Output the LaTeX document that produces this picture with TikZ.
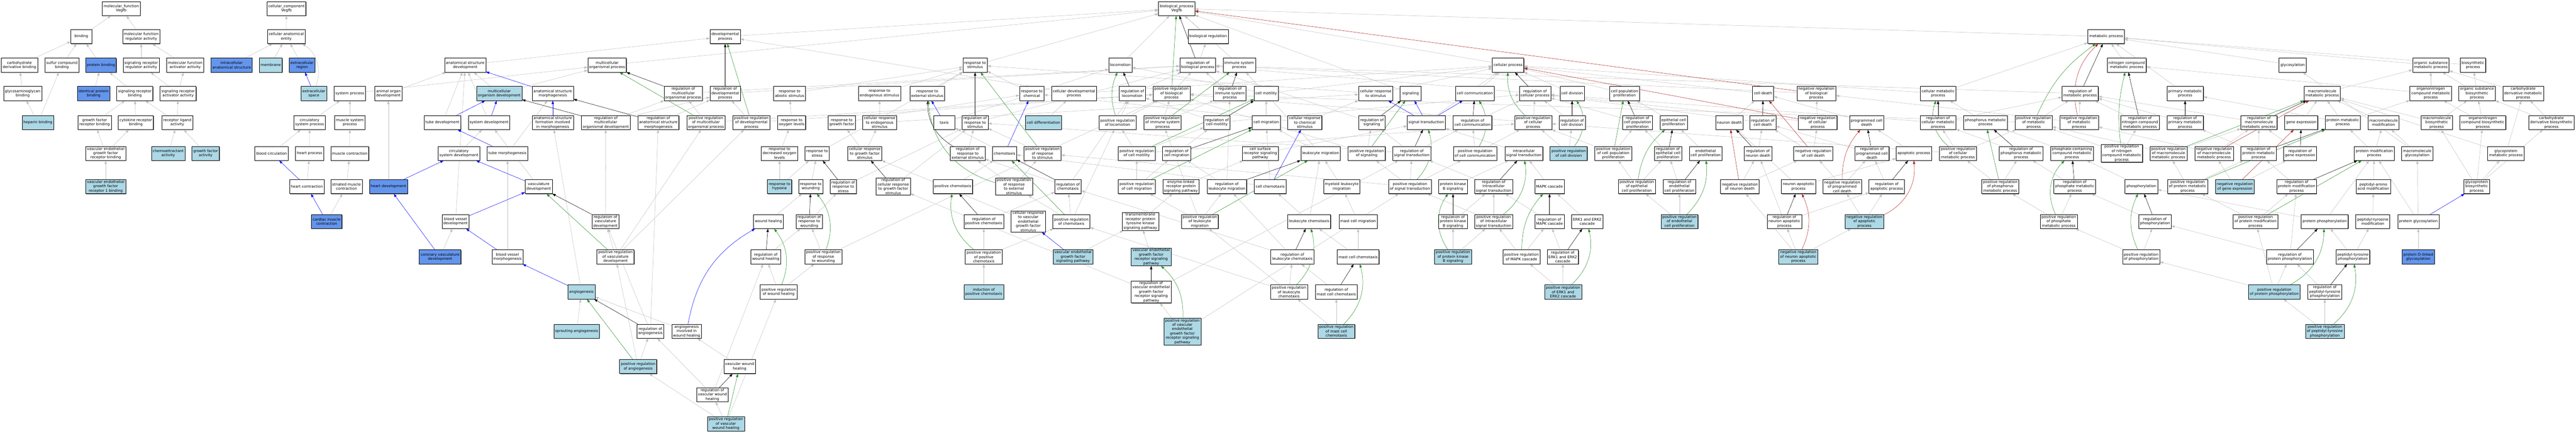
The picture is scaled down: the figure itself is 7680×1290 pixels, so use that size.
\documentclass[tikz,border=0pt]{standalone}
\usepackage{fontspec}
\setmainfont{DejaVu Sans}
\usetikzlibrary{arrows.meta,shadows,backgrounds}
\definecolor{lbcol}{HTML}{ADD8E6}
\definecolor{cbcol}{HTML}{6495ED}
\definecolor{grcol}{HTML}{C0C0C0}
\definecolor{gncol}{HTML}{228B22}
\definecolor{rdcol}{HTML}{B22222}
\definecolor{blcol}{HTML}{0000FF}
\newcommand\eg[3]{\foreach \q in {#3}{\draw[#1] (#2) -- (\q);}}
\tikzset{
 gbox/.style={draw=black, line width=0.9pt, fill=white, rectangle, align=center,
   inner xsep=4pt, inner ysep=1.5pt, minimum width=63pt, minimum height=42pt,
   font=\fontsize{11}{13}\selectfont,
   drop shadow={shadow xshift=1.4pt,shadow yshift=-1.4pt,fill=black!55,opacity=1}},
 lbbox/.style={gbox, fill=lbcol},
 cbbox/.style={gbox, fill=cbcol},
 ebase/.style={line width=0.8pt, -{Triangle[length=10pt,width=7pt]}},
 eisa/.style={ebase, draw=grcol},
 epart/.style={ebase, draw=blcol},
 ereg/.style={ebase, draw=black},
 epos/.style={ebase, draw=gncol},
 eneg/.style={ebase, draw=rdcol}
}
\begin{document}
\begin{tikzpicture}[x=1pt,y=-1pt]
\useasboundingbox (0,0) rectangle (7680,1290);
% ---------------- molecular function
\node[gbox] (mf) at (361.5,25.5) {molecular\_function\\Vegfb};
\node[gbox] (bind) at (242.5,109) {binding};
\node[gbox] (mfra) at (421,109) {molecular function\\regulator activity};
\node[gbox] (cdb) at (58,194) {carbohydrate\\derivative binding};
\node[gbox] (scb) at (184.5,194) {sulfur compound\\binding};
\node[cbbox] (pb) at (301,194) {protein binding};
\node[gbox] (srra) at (421,194) {signaling receptor\\regulator activity};
\node[gbox] (mfaa) at (552,194) {molecular function\\activator activity};
\node[gbox] (gagb) at (67.5,278.5) {glycosaminoglycan\\binding};
\node[cbbox] (ipb) at (279,278.5) {identical protein\\binding};
\node[gbox] (srb) at (402,278.5) {signaling receptor\\binding};
\node[gbox] (sraa) at (531,278.5) {signaling receptor\\activator activity};
\node[lbbox] (hep) at (113,365) {heparin binding};
\node[gbox] (gfrb) at (282,365) {growth factor\\receptor binding};
\node[gbox] (crb) at (405,365) {cytokine receptor\\binding};
\node[gbox] (rla) at (528.5,365) {receptor ligand\\activity};
\node[gbox] (vegfrb) at (315,457) {vascular endothelial\\growth factor\\receptor binding};
\node[lbbox] (chem) at (501.5,457) {chemoattractant\\activity};
\node[lbbox] (gfa) at (613,457) {growth factor\\activity};
\node[lbbox] (vegfr1b) at (315,556) {vascular endothelial\\growth factor\\receptor 1 binding};
% ---------------- cellular component
\node[gbox] (cc) at (854,25.5) {cellular\_component\\Vegfb};
\node[gbox] (cae) at (853.5,109) {cellular anatomical\\entity};
\node[cbbox] (ias) at (690.6,194) {intracellular\\anatomical structure};
\node[lbbox] (memb) at (807,194) {membrane};
\node[cbbox] (exr) at (900.6,194) {extracellular\\region};
\node[lbbox] (exs) at (935.7,278.5) {extracellular\\space};
% ---------------- development / system
\node[gbox] (sysp) at (1043,278.5) {system process};
\node[gbox] (aod) at (1158,278.5) {animal organ\\development};
\node[gbox] (csp) at (923,365) {circulatory\\system process};
\node[gbox] (msp) at (1043,365) {muscle system\\process};
\node[gbox] (bcirc) at (809.5,457) {blood circulation};
\node[gbox] (hp) at (922.8,457) {heart process};
\node[gbox] (mc) at (1042.6,457) {muscle contraction};
\node[gbox] (hc) at (914.8,556) {heart contraction};
\node[gbox] (smc) at (1033,556) {striated muscle\\contraction};
\node[cbbox] (hd) at (1158,556) {heart development};
\node[cbbox] (cmc) at (974,660) {cardiac muscle\\contraction};
\node[cbbox] (cvd) at (1312,765.5) {coronary vasculature\\development};
\node[gbox] (asd) at (1387,194) {anatomical structure\\development};
\node[gbox] (mop) at (1810,194) {multicellular\\organismal process};
\node[lbbox] (mod) at (1488.5,278.5) {multicellular\\organism development};
\node[gbox] (asm) at (1648,278.5) {anatomical structure\\morphogenesis};
\node[gbox] (td) at (1319,365) {tube development};
\node[gbox] (sd) at (1458,365) {system development};
\node[gbox] (asf) at (1648,365) {anatomical structure\\formation involved\\in morphogenesis};
\node[gbox] (rmod) at (1806,365) {regulation of\\multicellular\\organismal development};
\node[gbox] (rasm) at (1962.7,365) {regulation of\\anatomical structure\\morphogenesis};
\node[gbox] (csd) at (1368,457) {circulatory\\system development};
\node[gbox] (tm) at (1513,457) {tube morphogenesis};
\node[gbox] (vd) at (1606,556) {vasculature\\development};
\node[gbox] (bvd) at (1358,660) {blood vessel\\development};
\node[gbox] (rvd) at (1805,660) {regulation of\\vasculature\\development};
\node[gbox] (bvm) at (1513,765.5) {blood vessel\\morphogenesis};
\node[gbox] (prvd) at (1835,765.5) {positive regulation\\of vasculature\\development};
\node[lbbox] (ang) at (1733.5,870) {angiogenesis};
\node[lbbox] (sang) at (1719,987) {sprouting angiogenesis};
\node[gbox] (rang) at (1939,987) {regulation of\\angiogenesis};
\node[lbbox] (prang) at (1902.6,1092) {positive regulation\\of angiogenesis};
\node[gbox] (dp) at (2162,109) {developmental\\process};
\node[gbox] (rmop) at (2037,278.5) {regulation of\\multicellular\\organismal process};
\node[gbox] (rdp) at (2162,278.5) {regulation of\\developmental\\process};
\node[gbox] (ras) at (2354,278.5) {response to\\abiotic stimulus};
\node[gbox] (prmop) at (2104.6,365) {positive regulation\\of multicellular\\organismal process};
\node[gbox] (prdp) at (2240,365) {positive regulation\\of developmental\\process};
\node[gbox] (rol) at (2360,365) {response to\\oxygen levels};
\node[gbox] (rgf) at (2509.6,365) {response to\\growth factor};
\node[gbox] (rdol) at (2324,457) {response to\\decreased oxygen\\levels};
\node[gbox] (rstress) at (2436,457) {response to\\stress};
\node[gbox] (crgf) at (2578,457) {cellular response\\to growth factor\\stimulus};
\node[lbbox] (rhyp) at (2324,556) {response to\\hypoxia};
\node[gbox] (rwound) at (2417,556) {response to\\wounding};
\node[gbox] (rrs) at (2514,556) {regulation of\\response to\\stress};
\node[gbox] (wh) at (2291,660) {wound healing};
\node[gbox] (rrw) at (2412.6,660) {regulation of\\response to\\wounding};
\node[gbox] (rwh) at (2283,765.5) {regulation of\\wound healing};
\node[gbox] (prrw) at (2454.7,765.5) {positive regulation\\of response\\to wounding};
\node[gbox] (prwh) at (2321.5,870) {positive regulation\\of wound healing};
\node[gbox] (aiwh) at (2047,987) {angiogenesis\\involved in\\wound healing};
\node[gbox] (vwh) at (2205,1092) {vascular wound\\healing};
\node[gbox] (rvwh) at (2124,1176) {regulation of\\vascular wound\\healing};
\node[lbbox] (prvwh) at (2164,1263) {positive regulation\\of vascular\\wound healing};
% ---------------- response to stimulus
\node[gbox] (rstim) at (2907,194) {response to\\stimulus};
\node[gbox] (res) at (2622,278.5) {response to\\endogenous stimulus};
\node[gbox] (rext) at (2764.6,278.5) {response to\\external stimulus};
\node[gbox] (rchem) at (3076,278.5) {response to\\chemical};
\node[gbox] (cdp) at (3202,278.5) {cellular developmental\\process};
\node[gbox] (cres) at (2622.5,365) {cellular response\\to endogenous\\stimulus};
\node[gbox] (taxis) at (2815,365) {taxis};
\node[gbox] (rrstim) at (2907,365) {regulation of\\response to\\stimulus};
\node[lbbox] (cdiff) at (3111,365) {cell differentiation};
\node[gbox] (rrext) at (2885,457) {regulation of\\response to\\external stimulus};
\node[gbox] (chemo) at (2995,457) {chemotaxis};
\node[gbox] (prrstim) at (3108,457) {positive regulation\\of response\\to stimulus};
\node[gbox] (rcrgf) at (2663,556) {regulation of\\cellular response\\to growth factor\\stimulus};
\node[gbox] (pchemo) at (2840.5,556) {positive chemotaxis};
\node[gbox] (prrext) at (3023,556) {positive regulation\\of response\\to external\\stimulus};
\node[gbox] (rchemo) at (3184,556) {regulation of\\chemotaxis};
\node[gbox] (rpchemo) at (2933,660) {regulation of\\positive chemotaxis};
\node[gbox] (crvegf) at (3065.6,660) {cellular response\\to vascular\\endothelial\\growth factor\\stimulus};
\node[gbox] (prchemo) at (3194,660) {positive regulation\\of chemotaxis};
\node[gbox] (prpchemo) at (2933,765.5) {positive regulation\\of positive\\chemotaxis};
\node[lbbox] (vegfsp) at (3199,765.5) {vascular endothelial\\growth factor\\signaling pathway};
\node[lbbox] (ipc) at (2933,870) {induction of\\positive chemotaxis};
% ---------------- biological process core
\node[gbox] (bp) at (3508,25.5) {biological\_process\\Vegfb};
\node[gbox] (breg) at (3601.7,109) {biological regulation};
\node[gbox] (loco) at (3340,194) {locomotion};
\node[gbox] (rbp) at (3571,194) {regulation of\\biological process};
\node[gbox] (isp) at (3694.7,194) {immune system\\process};
\node[gbox] (rloco) at (3375.8,278.5) {regulation of\\locomotion};
\node[gbox] (prbp) at (3492.6,278.5) {positive regulation\\of biological\\process};
\node[gbox] (risp) at (3666.5,278.5) {regulation of\\immune system\\process};
\node[gbox] (cmot) at (3775,278.5) {cell motility};
\node[gbox] (prloco) at (3332,365) {positive regulation\\of locomotion};
\node[gbox] (prisp) at (3466,365) {positive regulation\\of immune system\\process};
\node[gbox] (rcmot) at (3628,365) {regulation of\\cell motility};
\node[gbox] (cmig) at (3775,365) {cell migration};
\node[gbox] (crcs) at (3890,365) {cellular response\\to chemical\\stimulus};
\node[gbox] (prcmot) at (3389,457) {positive regulation\\of cell motility};
\node[gbox] (rcmig) at (3508,457) {regulation of\\cell migration};
\node[gbox] (csrsp) at (3757.5,457) {cell surface\\receptor signaling\\pathway};
\node[gbox] (prcmig) at (3389,556) {positive regulation\\of cell migration};
\node[gbox] (elrp) at (3520.6,556) {enzyme-linked\\receptor protein\\signaling pathway};
\node[gbox] (rlm) at (3657.6,556) {regulation of\\leukocyte migration};
\node[gbox] (cchemo) at (3786.7,556) {cell chemotaxis};
\node[gbox] (trptk) at (3400,660) {transmembrane\\receptor protein\\tyrosine kinase\\signaling pathway};
\node[gbox] (prlm) at (3577,660) {positive regulation\\of leukocyte\\migration};
\node[gbox] (lchemo) at (3903,660) {leukocyte chemotaxis};
\node[lbbox] (vegfrsp) at (3432,765.5) {vascular endothelial\\growth factor\\receptor signaling\\pathway};
\node[gbox] (rlc) at (3853,765.5) {regulation of\\leukocyte chemotaxis};
\node[gbox] (rvegfrsp) at (3432,870) {regulation of\\vascular endothelial\\growth factor\\receptor signaling\\pathway};
\node[gbox] (prlc) at (3843,870) {positive regulation\\of leukocyte\\chemotaxis};
\node[lbbox] (prvegfrsp) at (3525,988) {positive regulation\\of vascular\\endothelial\\growth factor\\receptor signaling\\pathway};
% ---------------- signaling
\node[gbox] (cp) at (4496,194) {cellular process};
\node[gbox] (crstim) at (4101.5,278.5) {cellular response\\to stimulus};
\node[gbox] (sig) at (4205.6,278.5) {signaling};
\node[gbox] (ccomm) at (4397,278.5) {cell communication};
\node[gbox] (rsig) at (4090,365) {regulation of\\signaling};
\node[gbox] (st) at (4252,365) {signal transduction};
\node[gbox] (rccomm) at (4390,365) {regulation of\\cell communication};
\node[gbox] (lmig) at (3937,457) {leukocyte migration};
\node[gbox] (prsig) at (4074.5,457) {positive regulation\\of signaling};
\node[gbox] (rst) at (4209,457) {regulation of\\signal transduction};
\node[gbox] (prccomm) at (4398,457) {positive regulation\\of cell communication};
\node[gbox] (mlm) at (4000,556) {myeloid leukocyte\\migration};
\node[gbox] (prst) at (4203.6,556) {positive regulation\\of signal transduction};
\node[gbox] (pkb) at (4332,556) {protein kinase\\B signaling};
\node[gbox] (rist) at (4453,556) {regulation of\\intracellular\\signal transduction};
\node[gbox] (mcm) at (4049,660) {mast cell migration};
\node[gbox] (rpkb) at (4332,660) {regulation of\\protein kinase\\B signaling};
\node[gbox] (prist) at (4453,660) {positive regulation\\of intracellular\\signal transduction};
\node[gbox] (mcc) at (4049,765.5) {mast cell chemotaxis};
\node[lbbox] (prpkb) at (4332,765.5) {positive regulation\\of protein kinase\\B signaling};
\node[gbox] (prmapk) at (4536,765.5) {positive regulation\\of MAPK cascade};
\node[gbox] (rmcc) at (3984,870) {regulation of\\mast cell chemotaxis};
\node[lbbox] (prmcc) at (3984,987) {positive regulation\\of mast cell\\chemotaxis};
% ---------------- cellular process / proliferation
\node[gbox] (rcp) at (4576.5,278.5) {regulation of\\cellular process};
\node[gbox] (cdiv) at (4687,278.5) {cell division};
\node[gbox] (cpp) at (4843.4,278.5) {cell population\\proliferation};
\node[gbox] (prcp) at (4571,365) {positive regulation\\of cellular\\process};
\node[gbox] (rcdiv) at (4687,365) {regulation of\\cell division};
\node[gbox] (rcpp) at (4882,365) {regulation of\\cell population\\proliferation};
\node[gbox] (epcp) at (4989.6,365) {epithelial cell\\proliferation};
\node[gbox] (ist) at (4543,457) {intracellular\\signal transduction};
\node[lbbox] (prcdiv) at (4676.7,457) {positive regulation\\of cell division};
\node[gbox] (prcpp) at (4809.8,457) {positive regulation\\of cell population\\proliferation};
\node[gbox] (repcp) at (4973,457) {regulation of\\epithelial cell\\proliferation};
\node[gbox] (encp) at (5085,457) {endothelial\\cell proliferation};
\node[gbox] (mapk) at (4619.6,556) {MAPK cascade};
\node[gbox] (prepcp) at (4880,556) {positive regulation\\of epithelial\\cell proliferation};
\node[gbox] (rencp) at (5007,556) {regulation of\\endothelial\\cell proliferation};
\node[gbox] (rmapk) at (4619.6,660) {regulation of\\MAPK cascade};
\node[gbox] (erk) at (4732,660) {ERK1 and ERK2\\cascade};
\node[lbbox] (prencp) at (5007,660) {positive regulation\\of endothelial\\cell proliferation};
\node[gbox] (rerk) at (4659,765.5) {regulation of\\ERK1 and ERK2\\cascade};
\node[lbbox] (prerk) at (4660,870) {positive regulation\\of ERK1 and\\ERK2 cascade};
% ---------------- death
\node[gbox] (cd) at (5256,278.5) {cell death};
\node[gbox] (nrbp) at (5415,278.5) {negative regulation\\of biological\\process};
\node[gbox] (cmp) at (5778,278.5) {cellular metabolic\\process};
\node[gbox] (nd) at (5156,365) {neuron death};
\node[gbox] (rcd) at (5255.5,365) {regulation of\\cell death};
\node[gbox] (nrcp) at (5419,365) {negative regulation\\of cellular\\process};
\node[gbox] (pcd) at (5565,365) {programmed cell\\death};
\node[gbox] (rcmp) at (5778,365) {regulation of\\cellular metabolic\\process};
\node[gbox] (rnd) at (5241,457) {regulation of\\neuron death};
\node[gbox] (nrcd) at (5405.7,457) {negative regulation\\of cell death};
\node[gbox] (rpcd) at (5581,457) {regulation of\\programmed cell\\death};
\node[gbox] (apop) at (5706,457) {apoptotic process};
\node[gbox] (nrnd) at (5187,556) {negative regulation\\of neuron death};
\node[gbox] (nap) at (5362,556) {neuron apoptotic\\process};
\node[gbox] (nrpcd) at (5492,556) {negative regulation\\of programmed\\cell death};
\node[gbox] (rapop) at (5625,556) {regulation of\\apoptotic process};
\node[gbox] (rnap) at (5320,660) {regulation of\\neuron apoptotic\\process};
\node[lbbox] (nrapop) at (5558.6,660) {negative regulation\\of apoptotic\\process};
\node[lbbox] (nrnap) at (5361.5,765.5) {negative regulation\\of neuron apoptotic\\process};
% ---------------- metabolism
\node[gbox] (mp) at (6279,109) {metabolic process};
\node[gbox] (ncmp) at (6340.6,194) {nitrogen compound\\metabolic process};
\node[gbox] (rmp) at (6201.6,278.5) {regulation of\\metabolic process};
\node[gbox] (phmp) at (5919.5,365) {phosphorus metabolic\\process};
\node[gbox] (prmp) at (6063,365) {positive regulation\\of metabolic\\process};
\node[gbox] (nrmp) at (6198.4,365) {negative regulation\\of metabolic\\process};
\node[gbox] (rncmp) at (6380,365) {regulation of\\nitrogen compound\\metabolic process};
\node[gbox] (prcmp) at (5837.5,457) {positive regulation\\of cellular\\metabolic process};
\node[gbox] (rphmp) at (6025.6,457) {regulation of\\phosphorus metabolic\\process};
\node[gbox] (pccmp) at (6177,457) {phosphate-containing\\compound metabolic\\process};
\node[gbox] (prncmp) at (6325.5,457) {positive regulation\\of nitrogen\\compound metabolic\\process};
\node[gbox] (prphmp) at (5963.5,556) {positive regulation\\of phosphorus\\metabolic process};
\node[gbox] (rphosmp) at (6185.4,556) {regulation of\\phosphate metabolic\\process};
\node[gbox] (phos) at (6384,556) {phosphorylation};
\node[gbox] (prphosmp) at (6137.8,660) {positive regulation\\of phosphate\\metabolic process};
\node[gbox] (rphos) at (6424.6,660) {regulation of\\phosphorylation};
\node[gbox] (prphos) at (6383.5,765.5) {positive regulation\\of phosphorylation};
\node[gbox] (glyc) at (6835,194) {glycosylation};
\node[gbox] (pmp) at (6514.5,278.5) {primary metabolic\\process};
\node[gbox] (mmp) at (6923,278.5) {macromolecule\\metabolic process};
\node[gbox] (rpmp) at (6514.5,365) {regulation of\\primary metabolic\\process};
\node[gbox] (rmmp) at (6734.6,365) {regulation of\\macromolecule\\metabolic process};
\node[gbox] (ge) at (6860.7,365) {gene expression};
\node[gbox] (protmp) at (6984.5,365) {protein metabolic\\process};
\node[gbox] (prmmp) at (6465,457) {positive regulation\\of macromolecule\\metabolic process};
\node[gbox] (nrmmp) at (6600.7,457) {negative regulation\\of macromolecule\\metabolic process};
\node[gbox] (rprotmp) at (6733.7,457) {regulation of\\protein metabolic\\process};
\node[gbox] (rge) at (6857.5,457) {regulation of\\gene expression};
\node[gbox] (pmodp) at (7078.4,457) {protein modification\\process};
\node[gbox] (prprotmp) at (6522,556) {positive regulation\\of protein metabolic\\process};
\node[lbbox] (nrge) at (6663,556) {negative regulation\\of gene expression};
\node[gbox] (rpmodp) at (6847,556) {regulation of\\protein modification\\process};
\node[gbox] (paam) at (7075.8,556) {peptidyl-amino\\acid modification};
\node[gbox] (prpmodp) at (6724.4,660) {positive regulation\\of protein modification\\process};
\node[gbox] (pphos) at (6930.7,660) {protein phosphorylation};
\node[gbox] (ptm) at (7074,660) {peptidyl-tyrosine\\modification};
\node[gbox] (rpphos) at (6827,765.5) {regulation of\\protein phosphorylation};
\node[gbox] (ptp) at (7014.7,765.5) {peptidyl-tyrosine\\phosphorylation};
\node[lbbox] (prpphos) at (6780.4,870) {positive regulation\\of protein phosphorylation};
\node[gbox] (rptp) at (6931,870) {regulation of\\peptidyl-tyrosine\\phosphorylation};
\node[lbbox] (prptp) at (6931,987) {positive regulation\\of peptidyl-tyrosine\\phosphorylation};
\node[gbox] (osmp) at (7247,194) {organic substance\\metabolic process};
\node[gbox] (bsp) at (7373,194) {biosynthetic\\process};
\node[gbox] (oncmp) at (7247,278.5) {organonitrogen\\compound metabolic\\process};
\node[gbox] (osbp) at (7384.7,278.5) {organic substance\\biosynthetic\\process};
\node[gbox] (cdmp) at (7522.4,278.5) {carbohydrate\\derivative metabolic\\process};
\node[gbox] (mmod) at (7106,365) {macromolecule\\modification};
\node[gbox] (mmbp) at (7264.7,365) {macromolecule\\biosynthetic\\process};
\node[gbox] (oncbp) at (7402,365) {organonitrogen\\compound biosynthetic\\process};
\node[gbox] (cdbp) at (7606.6,365) {carbohydrate\\derivative biosynthetic\\process};
\node[gbox] (mglyc) at (7206.4,457) {macromolecule\\glycosylation};
\node[gbox] (gpmp) at (7471,457) {glycoprotein\\metabolic process};
\node[gbox] (gpbp) at (7383.5,556) {glycoprotein\\biosynthetic\\process};
\node[gbox] (pglyc) at (7209.7,660) {protein glycosylation};
\node[cbbox] (polg) at (7209.7,765.5) {protein O-linked\\glycosylation};

\begin{pgfonlayer}{background}
\fill[white] (0,0) rectangle (7680,1290);
% ---- is_a (grey)
\eg{eisa}{bind}{mf}
\eg{eisa}{mfra}{mf}
\eg{eisa}{cdb}{bind}
\eg{eisa}{scb}{bind}
\eg{eisa}{pb}{bind}
\eg{eisa}{srra}{mfra}
\eg{eisa}{mfaa}{mfra}
\eg{eisa}{gagb}{cdb}
\eg{eisa}{ipb}{pb}
\eg{eisa}{srb}{pb}
\eg{eisa}{sraa}{srra,mfaa}
\eg{eisa}{hep}{gagb,scb}
\eg{eisa}{gfrb}{srb}
\eg{eisa}{crb}{srb}
\eg{eisa}{rla}{srb,sraa}
\eg{eisa}{vegfrb}{gfrb,crb}
\eg{eisa}{chem}{rla}
\eg{eisa}{gfa}{rla}
\eg{eisa}{vegfr1b}{vegfrb}
\eg{eisa}{cae}{cc}
\eg{eisa}{ias}{cae}
\eg{eisa}{memb}{cae}
\eg{eisa}{exr}{cae}
\draw[eisa] (exs) to[bend right=40] (cae);
\eg{eisa}{breg}{bp}
\eg{eisa}{dp}{bp}
\eg{eisa}{mp}{bp}
\eg{eisa}{rstim}{bp}
\eg{eisa}{loco}{bp}
\eg{eisa}{isp}{bp}
\eg{eisa}{cp}{bp}
\eg{eisa}{mop}{bp}
\eg{eisa}{sig}{bp}
\eg{eisa}{rbp}{breg}
\eg{eisa}{prbp}{rbp}
\eg{eisa}{nrbp}{rbp}
\eg{eisa}{rdp}{rbp}
\eg{eisa}{prdp}{rdp,prbp}
\eg{eisa}{rmop}{rbp}
\eg{eisa}{prmop}{rmop,prbp}
\eg{eisa}{asd}{dp}
\eg{eisa}{mod}{asd,mop}
\eg{eisa}{td}{asd}
\eg{eisa}{sd}{asd}
\eg{eisa}{aod}{asd}
\eg{eisa}{csd}{sd}
\eg{eisa}{sysp}{mop}
\eg{eisa}{csp}{sysp}
\eg{eisa}{msp}{sysp}
\eg{eisa}{bcirc}{csp}
\eg{eisa}{hp}{csp}
\eg{eisa}{mc}{msp}
\eg{eisa}{hc}{hp}
\eg{eisa}{smc}{mc}
\eg{eisa}{cmc}{smc}
\eg{eisa}{hd}{aod}
\eg{eisa}{cvd}{bvd}
\eg{eisa}{vd}{sd}
\eg{eisa}{bvd}{asd}
\eg{eisa}{tm}{asm}
\eg{eisa}{bvm}{tm}
\eg{eisa}{ang}{asf}
\eg{eisa}{sang}{ang}
\eg{eisa}{aiwh}{ang}
\eg{eisa}{vwh}{aiwh}
\eg{eisa}{rmod}{rmop,rdp}
\eg{eisa}{rasm}{rdp}
\eg{eisa}{rvd}{rmod}
\eg{eisa}{prvd}{rvd,prdp,prmop}
\eg{eisa}{rang}{rasm,rvd}
\eg{eisa}{prang}{rang,prvd}
\eg{eisa}{rvwh}{rang,rwh}
\eg{eisa}{prvwh}{rvwh,prang,prwh}
\eg{eisa}{wh}{rwound}
\eg{eisa}{rwh}{rrw}
\eg{eisa}{prwh}{rwh,prrw}
\eg{eisa}{rwound}{rstress}
\eg{eisa}{rrw}{rrs}
\eg{eisa}{prrw}{rrw,prrstim}
\eg{eisa}{rstress}{rstim}
\eg{eisa}{rrs}{rrstim}
\eg{eisa}{rhyp}{rdol,rstress}
\eg{eisa}{rdol}{rol}
\eg{eisa}{rol}{ras}
\eg{eisa}{ras}{rstim}
\eg{eisa}{rgf}{rchem}
\eg{eisa}{crgf}{rgf,cres}
\eg{eisa}{cres}{res,crstim}
\eg{eisa}{res}{rstim}
\eg{eisa}{rext}{rstim}
\eg{eisa}{rchem}{rstim}
\eg{eisa}{taxis}{loco}
\eg{eisa}{chemo}{taxis}
\eg{eisa}{rrstim}{rbp}
\eg{eisa}{rrext}{rrstim}
\eg{eisa}{prrstim}{rrstim,prbp}
\eg{eisa}{prrext}{rrext,prrstim}
\eg{eisa}{pchemo}{chemo}
\eg{eisa}{rchemo}{rrext,rloco}
\eg{eisa}{prchemo}{rchemo,prrext,prloco}
\eg{eisa}{rpchemo}{rchemo}
\eg{eisa}{prpchemo}{rpchemo,prchemo}
\eg{eisa}{ipc}{prpchemo}
\eg{eisa}{rcrgf}{rrstim}
\eg{eisa}{crvegf}{crgf}
\eg{eisa}{vegfsp}{trptk}
\eg{eisa}{cdiff}{cdp}
\eg{eisa}{cdp}{dp,cp}
\eg{eisa}{rloco}{rbp}
\eg{eisa}{prloco}{rloco,prbp}
\eg{eisa}{cmot}{loco,cp}
\eg{eisa}{rcmot}{rloco,rcp}
\eg{eisa}{prcmot}{rcmot,prloco,prcp}
\eg{eisa}{cmig}{cmot}
\eg{eisa}{rcmig}{rcmot}
\eg{eisa}{prcmig}{rcmig,prcmot}
\eg{eisa}{risp}{rbp}
\eg{eisa}{prisp}{risp,prbp}
\eg{eisa}{lmig}{cmig,isp}
\eg{eisa}{rlm}{rcmig,risp}
\eg{eisa}{prlm}{rlm,prcmig,prisp}
\eg{eisa}{mlm}{lmig}
\eg{eisa}{cchemo}{cmig,chemo}
\eg{eisa}{lchemo}{lmig,cchemo}
\eg{eisa}{rlc}{rlm,rchemo}
\eg{eisa}{prlc}{rlc,prlm,prchemo}
\eg{eisa}{mcm}{mlm}
\eg{eisa}{mcc}{mcm,lchemo}
\eg{eisa}{rmcc}{rlc}
\eg{eisa}{prmcc}{rmcc,prlc}
\eg{eisa}{crstim}{rstim,cp}
\eg{eisa}{crcs}{rchem,crstim}
\eg{eisa}{ccomm}{cp}
\eg{eisa}{st}{cp}
\eg{eisa}{rsig}{rbp}
\eg{eisa}{rccomm}{rcp}
\eg{eisa}{rst}{rsig,rccomm,rrstim}
\eg{eisa}{prsig}{rsig,prbp}
\eg{eisa}{prccomm}{rccomm,prcp}
\eg{eisa}{prst}{rst,prsig,prccomm,prrstim}
\eg{eisa}{csrsp}{st}
\eg{eisa}{elrp}{csrsp}
\eg{eisa}{trptk}{elrp}
\eg{eisa}{vegfrsp}{trptk}
\eg{eisa}{rvegfrsp}{rcrgf,rst}
\eg{eisa}{prvegfrsp}{rvegfrsp,prst}
\eg{eisa}{ist}{st}
\eg{eisa}{rist}{rst}
\eg{eisa}{prist}{rist,prst}
\eg{eisa}{pkb}{ist}
\eg{eisa}{rpkb}{rist}
\eg{eisa}{prpkb}{rpkb,prist}
\eg{eisa}{mapk}{ist}
\eg{eisa}{rmapk}{rist}
\eg{eisa}{prmapk}{rmapk,prist}
\eg{eisa}{erk}{mapk}
\eg{eisa}{rerk}{rmapk}
\eg{eisa}{prerk}{rerk,prmapk}
\eg{eisa}{rcp}{rbp}
\eg{eisa}{prcp}{rcp,prbp}
\eg{eisa}{nrcp}{rcp,nrbp}
\eg{eisa}{cdiv}{cp}
\eg{eisa}{rcdiv}{rcp}
\eg{eisa}{prcdiv}{rcdiv,prcp}
\eg{eisa}{cpp}{cp}
\eg{eisa}{rcpp}{rcp}
\eg{eisa}{prcpp}{rcpp,prcp}
\eg{eisa}{epcp}{cpp}
\eg{eisa}{repcp}{rcpp}
\eg{eisa}{prepcp}{repcp,prcpp}
\eg{eisa}{encp}{epcp}
\eg{eisa}{rencp}{repcp}
\eg{eisa}{prencp}{rencp,prepcp}
\eg{eisa}{cd}{cp}
\eg{eisa}{rcd}{rcp}
\eg{eisa}{nrcd}{rcd,nrcp}
\eg{eisa}{nd}{cd}
\eg{eisa}{rnd}{rcd}
\eg{eisa}{nrnd}{rnd,nrcd}
\eg{eisa}{pcd}{cd}
\eg{eisa}{rpcd}{rcd}
\eg{eisa}{nrpcd}{rpcd,nrcd}
\eg{eisa}{apop}{pcd}
\eg{eisa}{rapop}{rpcd}
\eg{eisa}{nrapop}{rapop,nrpcd}
\eg{eisa}{nap}{apop,nd}
\eg{eisa}{rnap}{rnd,rapop}
\eg{eisa}{nrnap}{rnap,nrnd,nrapop}
\eg{eisa}{ncmp}{mp}
\eg{eisa}{pmp}{mp}
\eg{eisa}{osmp}{mp}
\eg{eisa}{cmp}{mp,cp}
\eg{eisa}{mmp}{osmp}
\eg{eisa}{protmp}{mmp,pmp,oncmp}
\eg{eisa}{bsp}{mp}
\eg{eisa}{glyc}{mp}
\eg{eisa}{rmp}{rbp}
\eg{eisa}{prmp}{rmp,prbp}
\eg{eisa}{nrmp}{rmp,nrbp}
\eg{eisa}{rcmp}{rmp,rcp}
\eg{eisa}{prcmp}{rcmp,prmp,prcp}
\eg{eisa}{rncmp}{rmp}
\eg{eisa}{prncmp}{rncmp,prmp}
\eg{eisa}{rpmp}{rmp}
\eg{eisa}{phmp}{cmp}
\eg{eisa}{rphmp}{rcmp}
\eg{eisa}{prphmp}{rphmp,prcmp}
\eg{eisa}{pccmp}{phmp}
\eg{eisa}{rphosmp}{rphmp}
\eg{eisa}{prphosmp}{rphosmp,prphmp}
\eg{eisa}{phos}{pccmp}
\eg{eisa}{rphos}{rphosmp}
\eg{eisa}{prphos}{rphos,prphosmp}
\eg{eisa}{rmmp}{rmp}
\eg{eisa}{prmmp}{rmmp,prmp}
\eg{eisa}{nrmmp}{rmmp,nrmp}
\eg{eisa}{ge}{mmp}
\eg{eisa}{rge}{rmmp}
\eg{eisa}{nrge}{rge,nrmmp}
\eg{eisa}{rprotmp}{rmmp,rpmp}
\eg{eisa}{prprotmp}{rprotmp,prmmp}
\eg{eisa}{pmodp}{protmp,mmod}
\eg{eisa}{rpmodp}{rprotmp}
\eg{eisa}{prpmodp}{rpmodp,prprotmp}
\eg{eisa}{pphos}{phos,pmodp}
\eg{eisa}{rpphos}{rphos,rpmodp}
\eg{eisa}{prpphos}{rpphos,prphos,prpmodp}
\eg{eisa}{paam}{pmodp}
\eg{eisa}{ptm}{paam}
\eg{eisa}{ptp}{pphos,ptm}
\eg{eisa}{rptp}{rpphos}
\eg{eisa}{prptp}{rptp,prpphos}
\eg{eisa}{oncmp}{osmp,ncmp}
\eg{eisa}{osbp}{osmp,bsp}
\eg{eisa}{cdmp}{osmp}
\eg{eisa}{mmod}{mmp}
\eg{eisa}{mmbp}{osbp,mmp}
\eg{eisa}{oncbp}{osbp,oncmp}
\eg{eisa}{cdbp}{cdmp,osbp}
\eg{eisa}{mglyc}{glyc,mmod}
\eg{eisa}{gpmp}{cdmp,mmp}
\eg{eisa}{gpbp}{gpmp,mmbp,oncbp,cdbp}
\eg{eisa}{pglyc}{mglyc,pmodp}
\eg{eisa}{polg}{pglyc}
% ---- part_of (blue)
\eg{epart}{exs}{exr}
\eg{epart}{hc}{bcirc}
\eg{epart}{cmc}{hc}
\eg{epart}{hd}{csd}
\eg{epart}{cvd}{hd}
\eg{epart}{td}{mod}
\eg{epart}{sd}{mod}
\eg{epart}{asm}{asd}
\eg{epart}{asf}{asm}
\eg{epart}{vd}{csd}
\eg{epart}{bvd}{vd}
\eg{epart}{tm}{td}
\eg{epart}{bvm}{bvd}
\eg{epart}{ang}{bvm}
\draw[epart] (aiwh) to[bend left=25] (wh);
\eg{epart}{taxis}{rext}
\eg{epart}{chemo}{rchem}
\eg{epart}{vegfsp}{crvegf}
\eg{epart}{cchemo}{crcs}
\eg{epart}{st}{crstim,sig,ccomm}
\eg{epart}{pglyc}{gpbp}
% ---- regulates (black)
\eg{ereg}{rbp}{bp}
\eg{ereg}{rdp}{dp}
\eg{ereg}{rmop}{mop}
\eg{ereg}{rmod}{mod}
\eg{ereg}{rasm}{asm}
\eg{ereg}{rvd}{vd}
\eg{ereg}{rang}{ang}
\eg{ereg}{rvwh}{vwh}
\eg{ereg}{rwh}{wh}
\eg{ereg}{rrw}{rwound}
\eg{ereg}{rrs}{rstress}
\eg{ereg}{rrstim}{rstim}
\draw[ereg] (rrext) to[bend left=30] (rext);
\eg{ereg}{rchemo}{chemo}
\eg{ereg}{rpchemo}{pchemo}
\eg{ereg}{rcrgf}{crgf}
\eg{ereg}{rloco}{loco}
\eg{ereg}{rcmot}{cmot}
\eg{ereg}{rcmig}{cmig}
\eg{ereg}{risp}{isp}
\eg{ereg}{rlm}{lmig}
\eg{ereg}{rlc}{lchemo}
\eg{ereg}{rmcc}{mcc}
\eg{ereg}{rsig}{sig}
\eg{ereg}{rccomm}{ccomm}
\eg{ereg}{rst}{st}
\eg{ereg}{rvegfrsp}{vegfrsp}
\eg{ereg}{rist}{ist}
\eg{ereg}{rpkb}{pkb}
\eg{ereg}{rmapk}{mapk}
\eg{ereg}{rerk}{erk}
\eg{ereg}{rcp}{cp}
\eg{ereg}{rcdiv}{cdiv}
\eg{ereg}{rcpp}{cpp}
\eg{ereg}{repcp}{epcp}
\eg{ereg}{rencp}{encp}
\eg{ereg}{rcd}{cd}
\eg{ereg}{rnd}{nd}
\eg{ereg}{rpcd}{pcd}
\eg{ereg}{rapop}{apop}
\eg{ereg}{rnap}{nap}
\eg{ereg}{rmp}{mp}
\eg{ereg}{rcmp}{cmp}
\eg{ereg}{rncmp}{ncmp}
\eg{ereg}{rpmp}{pmp}
\eg{ereg}{rphmp}{phmp}
\eg{ereg}{rphosmp}{pccmp}
\eg{ereg}{rphos}{phos}
\eg{ereg}{rmmp}{mmp}
\eg{ereg}{rge}{ge}
\eg{ereg}{rprotmp}{protmp}
\eg{ereg}{rpmodp}{pmodp}
\eg{ereg}{rpphos}{pphos}
\eg{ereg}{rptp}{ptp}
% ---- positively regulates (green)
\eg{epos}{prbp}{bp}
\eg{epos}{prdp}{dp}
\eg{epos}{prmop}{mop}
\eg{epos}{prvd}{vd}
\eg{epos}{prang}{ang}
\eg{epos}{prvwh}{vwh}
\draw[epos] (prwh) to[bend right=30] (wh);
\draw[epos] (prrw) to[bend right=30] (rwound);
\eg{epos}{prrstim}{rstim}
\draw[epos] (prrext) to[bend left=35] (rext);
\eg{epos}{prchemo}{chemo}
\draw[epos] (prpchemo) to[bend left=30] (pchemo);
\draw[epos] (prloco) to[bend left=20] (loco);
\eg{epos}{prcmot}{cmot}
\eg{epos}{prcmig}{cmig}
\eg{epos}{prisp}{isp}
\eg{epos}{prlm}{lmig}
\draw[epos] (prlc) to[bend right=30] (lchemo);
\draw[epos] (prmcc) to[bend right=30] (mcc);
\eg{epos}{prsig}{sig}
\draw[epos] (prccomm) to[bend right=30] (ccomm);
\draw[epos] (prst) to[bend right=30] (st);
\draw[epos] (prvegfrsp) to[bend right=25] (vegfrsp);
\draw[epos] (prist) to[bend right=30] (ist);
\draw[epos] (prpkb) to[bend left=35] (pkb);
\draw[epos] (prmapk) to[bend left=20] (mapk);
\draw[epos] (prerk) to[bend right=30] (erk);
\draw[epos] (prcp) to[bend left=25] (cp);
\draw[epos] (prcdiv) to[bend right=35] (cdiv);
\eg{epos}{prcpp}{cpp}
\draw[epos] (prepcp) to[bend left=20] (epcp);
\draw[epos] (prencp) to[bend right=25] (encp);
\draw[epos] (prmp) to[bend left=15] (mp);
\draw[epos] (prcmp) to[bend left=35] (cmp);
\draw[epos] (prncmp) to[bend left=10] (ncmp);
\eg{epos}{prphmp}{phmp}
\draw[epos] (prphosmp) to[bend left=35] (pccmp);
\draw[epos] (prphos) to[bend left=25] (phos);
\eg{epos}{prmmp}{mmp}
\eg{epos}{prprotmp}{protmp}
\eg{epos}{prpmodp}{pmodp}
\draw[epos] (prpphos) to[bend right=30] (pphos);
\draw[epos] (prptp) to[bend right=30] (ptp);
% ---- negatively regulates (red)
\eg{eneg}{nrbp}{bp}
\eg{eneg}{nrcp}{cp}
\eg{eneg}{nrcd}{cd}
\eg{eneg}{nrnd}{nd}
\draw[eneg] (nrpcd) to[bend left=20] (pcd);
\draw[eneg] (nrapop) to[bend right=35] (apop);
\draw[eneg] (nrnap) to[bend right=25] (nap);
\draw[eneg] (nrmp) to[bend left=30] (mp);
\eg{eneg}{nrmmp}{mmp}
\eg{eneg}{nrge}{ge}
\end{pgfonlayer}
\end{tikzpicture}
\end{document}
